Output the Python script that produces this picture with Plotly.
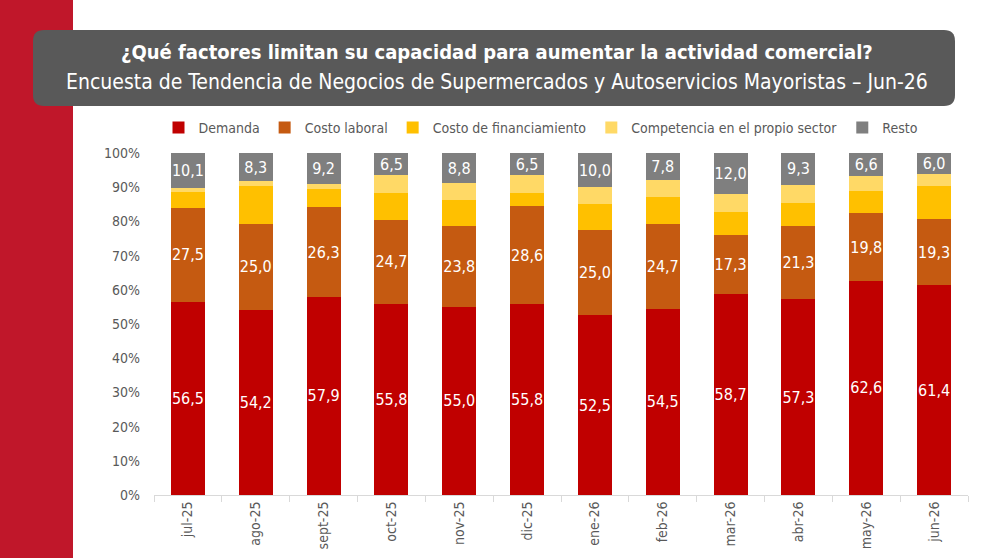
import plotly.graph_objects as go

meses = ["jul-25", "ago-25", "sept-25", "oct-25", "nov-25", "dic-25",
         "ene-26", "feb-26", "mar-26", "abr-26", "may-26", "jun-26"]
demanda = [56.5, 54.2, 57.9, 55.8, 55.0, 55.8, 52.5, 54.5, 58.7, 57.3, 62.6, 61.4]
costo_laboral = [27.5, 25.0, 26.3, 24.7, 23.8, 28.6, 25.0, 24.7, 17.3, 21.3, 19.8, 19.3]
costo_financiamiento = [4.5, 11.2, 5.3, 7.9, 7.5, 3.8, 7.6, 7.8, 6.7, 6.9, 6.6, 9.7]
competencia = [1.4, 1.3, 1.3, 5.1, 4.9, 5.3, 4.9, 5.2, 5.3, 5.2, 4.4, 3.6]
resto = [10.1, 8.3, 9.2, 6.5, 8.8, 6.5, 10.0, 7.8, 12.0, 9.3, 6.6, 6.0]
y_ticks = list(range(0, 101, 10))
y_tick_labels = [f"{v}%" for v in y_ticks]

FONT = "Liberation Sans Narrow, DejaVu Sans Condensed, Open Sans, sans-serif"
W, H = 1000, 558

series = [
    ("Demanda", demanda, "#C00000", True),
    ("Costo laboral", costo_laboral, "#C55A11", True),
    ("Costo de financiamiento", costo_financiamiento, "#FFC000", False),
    ("Competencia en el propio sector", competencia, "#FFD966", False),
    ("Resto", resto, "#7F7F7F", True),
]

fig = go.Figure()
for name, vals, color, show_text in series:
    fig.add_trace(go.Bar(
        name=name, x=meses, y=vals,
        marker=dict(color=color, line=dict(width=0)),
        texttemplate="%{y:.1f}" if show_text else None,
        textposition="inside" if show_text else "none",
        insidetextanchor="middle",
        textangle=0,
        textfont=dict(color="white", size=16, family=FONT),
    ))

def px_x(p):
    return p / W

def px_y(p):
    return (H - p) / H

# rounded title box path
x0, x1, y0, y1, r = 33, 955, 30, 106, 11
def P(x, y):
    return f"{px_x(x):.5f},{px_y(y):.5f}"
path = (f"M {P(x0 + r, y0)} L {P(x1 - r, y0)} Q {P(x1, y0)} {P(x1, y0 + r)} "
        f"L {P(x1, y1 - r)} Q {P(x1, y1)} {P(x1 - r, y1)} "
        f"L {P(x0 + r, y1)} Q {P(x0, y1)} {P(x0, y1 - r)} "
        f"L {P(x0, y0 + r)} Q {P(x0, y0)} {P(x0 + r, y0)} Z")

shapes = [
    dict(type="rect", xref="paper", yref="paper", x0=0, x1=px_x(73), y0=0, y1=1,
         fillcolor="#C0172A", line=dict(width=0), layer="below"),
    dict(type="path", xref="paper", yref="paper", path=path,
         fillcolor="#595959", line=dict(width=0), layer="above"),
]

annotations = [
    dict(text="<b>¿Qué factores limitan su capacidad para aumentar la actividad comercial?</b>",
         xref="paper", yref="paper", x=px_x(497), y=px_y(52), showarrow=False,
         xanchor="center", yanchor="middle", font=dict(color="white", size=20, family=FONT)),
    dict(text="Encuesta de Tendencia de Negocios de Supermercados y Autoservicios Mayoristas – Jun-26",
         xref="paper", yref="paper", x=px_x(497), y=px_y(82), showarrow=False,
         xanchor="center", yanchor="middle", font=dict(color="white", size=21, family=FONT)),
]

fig.update_layout(
    width=W, height=H,
    barmode="stack", bargap=0.5,
    separators=",.",
    paper_bgcolor="white", plot_bgcolor="white",
    margin=dict(l=0, r=0, t=0, b=0, autoexpand=False),
    font=dict(family=FONT, color="#595959", size=14),
    shapes=shapes, annotations=annotations,
    showlegend=True,
    legend=dict(orientation="h", x=px_x(541), xanchor="center", y=px_y(128), yanchor="middle",
                font=dict(size=14, color="#595959", family=FONT), traceorder="normal",
                itemwidth=30, bgcolor="rgba(0,0,0,0)"),
    xaxis=dict(domain=[px_x(154), px_x(968)], showline=True, linecolor="#D9D9D9", linewidth=1,
               ticks="outside", tickson="boundaries", ticklen=6, tickcolor="#D9D9D9",
               tickangle=-90, tickfont=dict(size=14, color="#595959"), showgrid=False,
               automargin=False, fixedrange=True),
    yaxis=dict(domain=[px_y(495), px_y(153)], range=[0, 100], tickmode="array",
               tickvals=y_ticks, ticktext=y_tick_labels,
               showgrid=False, zeroline=False, showline=False,
               tickfont=dict(size=14, color="#595959"), ticklabelstandoff=13,
               automargin=False, fixedrange=True),
    uniformtext=dict(minsize=16, mode="show"),
)

fig.write_html("out.html")
